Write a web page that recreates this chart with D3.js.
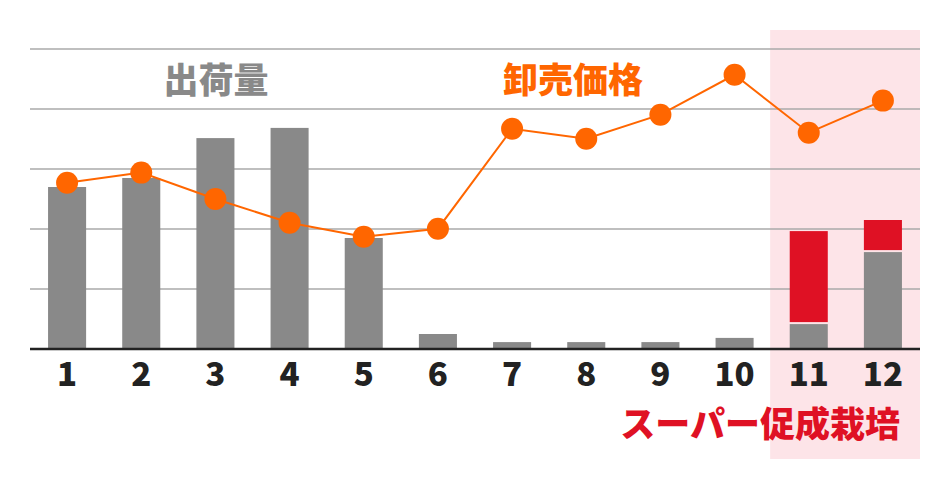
<!DOCTYPE html>
<html>
<head>
<meta charset="utf-8">
<script src="https://cdn.jsdelivr.net/npm/d3@7"></script>
<style>
  body { margin: 0; background: #fff; }
  svg { display: block; font-family: "Noto Sans CJK JP", "Noto Sans", sans-serif; }
</style>
</head>
<body>
<div id="chart"></div>
<script>
// months on the x axis
var months = ["1", "2", "3", "4", "5", "6", "7", "8", "9", "10", "11", "12"];
// shipment volume (normal) and super forcing culture part
var shipNormal = [54, 57, 70.3, 73.7, 37, 5, 2.3, 2.3, 2.3, 3.7, 8.3, 32.3];
var shipForced = [0, 0, 0, 0, 0, 0, 0, 0, 0, 0, 31, 10.7];
// wholesale price
var price = [55.4, 58.8, 50, 42.1, 37.4, 40.1, 73.4, 70.1, 78.1, 91.4, 72.1, 82.8];
var gridTicks = [0, 20, 40, 60, 80, 100];
var highlight = ["11", "12"];

var width = 950, height = 490;
var margin = { top: 49, right: 30, bottom: 141, left: 30 };

var svg = d3.select("#chart").append("svg")
  .attr("width", width)
  .attr("height", height);

var x = d3.scaleBand()
  .domain(months)
  .range([margin.left, width - margin.right])
  .paddingInner(0.487)
  .paddingOuter(0.2435);

var y = d3.scaleLinear()
  .domain([0, 100])
  .range([height - margin.bottom, margin.top]);

// pink highlight region
svg.append("rect")
  .attr("x", x(highlight[0]) - x.step() * x.paddingInner() / 2 - 1.5)
  .attr("y", 30)
  .attr("width", x.step() * highlight.length + 1.5)
  .attr("height", 429)
  .attr("fill", "#fde4e8");

// gridlines
svg.selectAll(".grid")
  .data(gridTicks.slice(1))
  .enter().append("line")
  .attr("x1", margin.left)
  .attr("x2", width - margin.right)
  .attr("y1", function(d) { return y(d); })
  .attr("y2", function(d) { return y(d); })
  .attr("stroke", "#aaa")
  .attr("stroke-width", 1.6);

// normal bars
svg.selectAll(".bar")
  .data(shipNormal)
  .enter().append("rect")
  .attr("x", function(d, i) { return x(months[i]); })
  .attr("y", function(d) { return y(d); })
  .attr("width", x.bandwidth())
  .attr("height", function(d) { return y(0) - y(d); })
  .attr("fill", "#898989");

// forced bars stacked on top
svg.selectAll(".forced")
  .data(shipForced)
  .enter().filter(function(d) { return d > 0; })
  .append("rect")
  .attr("x", function(d) { return x(months[shipForced.indexOf(d)]); })
  .attr("y", function(d) { var i = shipForced.indexOf(d); return y(shipNormal[i] + d); })
  .attr("width", x.bandwidth())
  .attr("height", function(d) { var i = shipForced.indexOf(d); return y(shipNormal[i]) - y(shipNormal[i] + d) - 2; })
  .attr("fill", "#df1124");

// baseline
svg.append("line")
  .attr("x1", margin.left)
  .attr("x2", width - margin.right)
  .attr("y1", y(0))
  .attr("y2", y(0))
  .attr("stroke", "#222")
  .attr("stroke-width", 2.4);

// x axis labels
var xAxis = d3.axisBottom(x).tickSize(0).tickPadding(0);
var gx = svg.append("g")
  .attr("transform", "translate(0," + y(0) + ")")
  .call(xAxis);
gx.select(".domain").remove();
gx.selectAll("text")
  .attr("dy", null)
  .attr("y", 37)
  .attr("fill", "#222")
  .style("font-size", "33px")
  .style("font-weight", 900)
  .style("font-family", "\"Noto Sans CJK JP\", sans-serif");

// price line
var line = d3.line()
  .x(function(d, i) { return x(months[i]) + x.bandwidth() / 2; })
  .y(function(d) { return y(d); });

svg.append("path")
  .datum(price)
  .attr("d", line)
  .attr("fill", "none")
  .attr("stroke", "#ff6600")
  .attr("stroke-width", 2);

svg.selectAll(".dot")
  .data(price)
  .enter().append("circle")
  .attr("cx", function(d, i) { return x(months[i]) + x.bandwidth() / 2; })
  .attr("cy", function(d) { return y(d); })
  .attr("r", 11)
  .attr("fill", "#ff6600");

// labels
svg.append("text")
  .attr("x", 216)
  .attr("y", 93)
  .attr("text-anchor", "middle")
  .attr("fill", "#898989")
  .style("font-size", "35px")
  .style("font-weight", 900)
  .text("出荷量");

svg.append("text")
  .attr("x", 503)
  .attr("y", 93)
  .attr("fill", "#ff6600")
  .style("font-size", "35px")
  .style("font-weight", 900)
  .text("卸売価格");

svg.append("text")
  .attr("x", 900)
  .attr("y", 437)
  .attr("text-anchor", "end")
  .attr("fill", "#df1124")
  .style("font-size", "35px")
  .style("font-weight", 900)
  .text("スーパー促成栽培");
</script>
</body>
</html>
